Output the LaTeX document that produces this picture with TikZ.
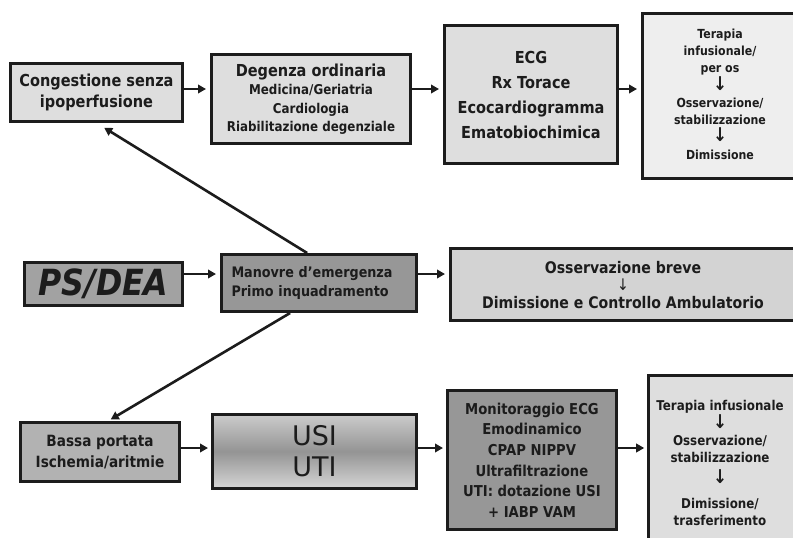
\documentclass[tikz,border=0pt]{standalone}
\usepackage{fontspec}
\setmainfont{DejaVu Sans}[FakeStretch=0.88]
\newfontfamily\widefont{DejaVu Sans}
\usetikzlibrary{arrows.meta,calc}

\definecolor{ink}{HTML}{1C1C1C}
\definecolor{fillA}{HTML}{DEDEDE}
\definecolor{fillB}{HTML}{EEEEEE}
\definecolor{fillC}{HTML}{A2A2A2}
\definecolor{fillD}{HTML}{979797}
\definecolor{fillE}{HTML}{D3D3D3}
\definecolor{fillF}{HTML}{B2B2B2}

\newcommand{\fs}[2]{\fontsize{#1}{#2}\selectfont}
\newcommand{\dn}[1]{{\fontsize{#1}{#1}\selectfont ↓}}

\tikzset{
  box/.style={draw=ink, line width=2.6pt, inner sep=0pt, align=center,
    text=ink},
  boxtext/.style={inner sep=0pt, align=center, text=ink},
  arr/.style={draw=ink, line width=2.6pt,
    -{Triangle[length=8pt,width=8.5pt]}, shorten >=4pt},
}

\begin{document}
\begin{tikzpicture}[x=1pt,y=-1pt]
\useasboundingbox[fill=white] (0,0) rectangle (793,538);

% ---- upper row: congestion path
\node[box, fill=fillA, minimum width=172.4pt, minimum height=58.4pt,
  font=\bfseries\fs{16.5}{21}]
  (cong) at (96.5,92.5) {Congestione senza\\ipoperfusione};
\node[box, fill=fillA, minimum width=199.4pt, minimum height=89.4pt,
  font=\bfseries\fs{13.5}{18.5}]
  (deg) at (311,99) {{\fs{16.5}{18.5}Degenza ordinaria}\\
  Medicina/Geriatria\\Cardiologia\\Riabilitazione degenziale};
\node[box, fill=fillA, minimum width=173.4pt, minimum height=138.4pt,
  font=\bfseries\fs{16.5}{25}]
  (ecg) at (531,94.5) {ECG\\Rx Torace\\Ecocardiogramma\\Ematobiochimica};
% this frame runs on past the right margin
\node[box, fill=fillB, minimum width=190pt, minimum height=165.4pt]
  (ter) at (737.3,96) {};
\node[boxtext, font=\bfseries\fs{12.5}{17.3}]
  (tertxt) at (720,94) {Terapia\\infusionale/\\per os\\\dn{19}\\
  Osservazione/\\stabilizzazione\\\dn{19}\\Dimissione};

% ---- middle row: emergency department
\node[box, fill=fillC, minimum width=158.4pt, minimum height=43.4pt,
  font=\bfseries\itshape\fs{36}{38}]
  (ps) at (103.5,284) {PS/DEA};
\node[box, fill=fillD, minimum width=195.4pt, minimum height=57.4pt,
  text width=175pt, align=left, font=\bfseries\fs{14.5}{19}]
  (man) at (319,283) {Manovre d’emergenza\\Primo inquadramento};
\node[box, fill=fillE, minimum width=380pt, minimum height=72.4pt]
  (oss) at (640.3,284.5) {};
\node[boxtext, font=\bfseries\fs{16}{17.5}]
  (osstxt) at (623,285) {Osservazione breve\\
  {\mdseries\dn{16}}\\Dimissione e Controllo Ambulatorio};

% ---- lower row: low output path
\node[box, fill=fillF, minimum width=159.4pt, minimum height=59.4pt,
  font=\bfseries\fs{15.5}{21}]
  (bas) at (100,452) {Bassa portata\\Ischemia/aritmie};
\node[box, top color=black!20, bottom color=black!16, middle color=black!42,
  minimum width=204.4pt, minimum height=74.4pt, font=\widefont\fs{27}{31}]
  (usi) at (314.5,451.5) {USI\\UTI};
\node[box, fill=fillD, minimum width=169.4pt, minimum height=139.4pt,
  font=\bfseries\fs{15}{20.6}]
  (mon) at (532,460) {Monitoraggio ECG\\Emodinamico\\CPAP NIPPV\\
  Ultrafiltrazione\\UTI: dotazione USI\\+ IABP VAM};
% this frame runs on past the right and bottom margins
\node[box, fill=fillA, minimum width=185pt, minimum height=200pt]
  (fin) at (741,475.5) {};
\node[boxtext, font=\bfseries\fs{13.5}{17}]
  (fintxt) at (720,463) {Terapia infusionale\\[1pt]\dn{19}\\
  Osservazione/\\stabilizzazione\\[4pt]\dn{19}\\[8pt]Dimissione/\\trasferimento};

% ---- connector levels
\coordinate (r1) at (0,89);
\coordinate (r2) at (0,274);
\coordinate (r3) at (0,448);

\draw[arr] (cong.east |- r1) -- (deg.west |- r1);
\draw[arr] (deg.east |- r1) -- (ecg.west |- r1);
\draw[arr] (ecg.east |- r1) -- (ter.west |- r1);

\draw[arr, line width=2pt] (ps.east |- r2) -- (man.west |- r2);
\draw[arr] (man.east |- r2) -- (oss.west |- r2);

\draw[arr, shorten >=3pt] (bas.east |- r3) -- (usi.west |- r3);
\draw[arr, shorten >=3pt] (usi.east |- r3) -- (mon.west |- r3);
\draw[arr, shorten >=3pt] (mon.east |- r3) -- (fin.west |- r3);

% ---- diagonal branches out of the emergency box
\coordinate (upstart) at ($(man.north west)!0.44!(man.north east)$);
\coordinate (dnstart) at ($(man.south west)!0.354!(man.south east)$);
\coordinate (dnend) at ($(bas.north west)!0.55!(bas.north east)$);
\draw[arr, shorten >=9pt] (upstart) -- (cong.south);
\draw[arr, shorten >=3pt] (dnstart) -- (dnend);
\end{tikzpicture}
\end{document}
